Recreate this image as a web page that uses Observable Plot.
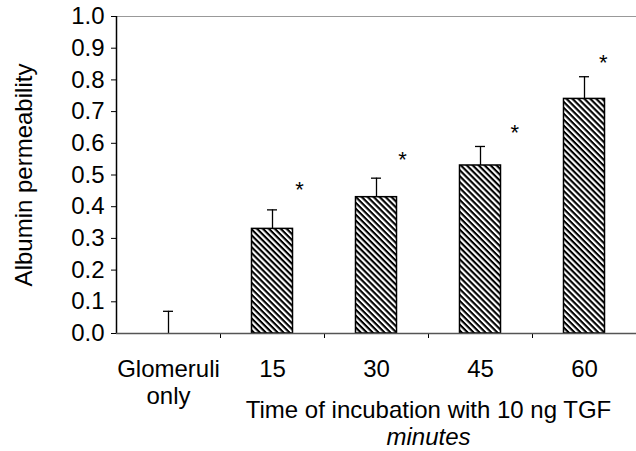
<!DOCTYPE html>
<html>
<head>
<meta charset="utf-8">
<script src="https://cdn.jsdelivr.net/npm/d3@7"></script>
<script src="https://cdn.jsdelivr.net/npm/@observablehq/plot@0.6"></script>
<style>
  html, body { margin: 0; padding: 0; background: #fff; }
  svg { display: block; }
</style>
</head>
<body>
<div id="chart"></div>
<script>
// ---- data ----
const categories = ["Glomeruli\nonly", "15", "30", "45", "60"];
const values = [0, 0.33, 0.43, 0.53, 0.74];
const errTop = [0.07, 0.39, 0.49, 0.59, 0.81];
const starCats = [1, 2, 3, 4];          // index of bars with asterisks
const starX = [1.76, 2.75, 3.83, 4.68]; // asterisk horizontal position (x units)
const starY = [0.46, 0.555, 0.64, 0.86];
const yTicks = [0, 0.1, 0.2, 0.3, 0.4, 0.5, 0.6, 0.7, 0.8, 0.9, 1.0];
const xTitle = "Time of incubation with 10 ng TGF";
const xSubTitle = "minutes";
const yTitle = "Albumin permeability";

const rows = categories.map((c, i) => ({i, cat: c, v: values[i], e: errTop[i]}));
const barRows = rows.filter(d => d.v > 0);
const stars = starCats.map((c, k) => ({x: starX[k], y: starY[k]}));

const W = 636, H = 451, mL = 116, mR = 0, mT = 16, mB = 118;
const bw = (W - mL - mR) / categories.length;
const barW = 41;
const inset = (bw - barW) / 2;
const capHalf = 5 / bw;

const font = "Arial, 'Liberation Sans', Helvetica, sans-serif";

const plot = Plot.plot({
  width: W, height: H,
  marginLeft: mL, marginRight: mR, marginTop: mT, marginBottom: mB,
  style: {fontFamily: font, fontSize: "24px", color: "#000", background: "#fff", overflow: "visible"},
  x: {type: "linear", domain: [0, categories.length]},
  y: {domain: [0, 1]},
  marks: [
    Plot.ruleY([1], {stroke: "#999", strokeWidth: 1}),
    // y axis
    Plot.axisY({ticks: yTicks, tickFormat: d3.format(".1f"), tickSize: 5, tickPadding: 7, label: null, fontSize: 24}),
    Plot.ruleX([0], {stroke: "#000", strokeWidth: 1.5}),
    // x axis: boundary ticks
    Plot.axisX({ticks: d3.range(1, categories.length), tickFormat: () => "", tickSize: 5, label: null}),
    // x axis: category labels at band centers
    Plot.axisX({ticks: d3.range(categories.length).map(i => i + 0.5), tickFormat: v => categories[Math.floor(v)], tickSize: 0, tickPadding: 25, label: null, fontSize: 24, lineHeight: 1.1}),
    // bars
    Plot.rectY(barRows, {x1: "i", x2: d => d.i + 1, y: "v", insetLeft: inset, insetRight: inset, fill: "#000", stroke: "#000", strokeWidth: 1.5}),
    // error bars
    Plot.ruleX(rows, {x: d => d.i + 0.5, y1: "v", y2: "e", stroke: "#000", strokeWidth: 1.3}),
    Plot.ruleY(rows, {y: "e", x1: d => d.i + 0.5 - capHalf, x2: d => d.i + 0.5 + capHalf, stroke: "#000", strokeWidth: 1.3}),
    // baseline
    Plot.ruleY([0], {stroke: "#555", strokeWidth: 1.5}),
    // asterisks
    Plot.text(stars, {x: "x", y: "y", text: () => "*", fontSize: 22, lineAnchor: "middle", dy: 2}),
    // axis titles
    Plot.text([yTitle], {frameAnchor: "left", dx: -92, rotate: -90, text: d => d, fontSize: 24, textAnchor: "middle"}),
    Plot.text([xTitle], {frameAnchor: "bottom", dx: 52, dy: 77, text: d => d, fontSize: 24, lineAnchor: "middle"}),
    Plot.text([xSubTitle], {frameAnchor: "bottom", dx: 52, dy: 104, text: d => d, fontSize: 24, fontStyle: "italic", lineAnchor: "middle"})
  ]
});

// hatch pattern
const svg = d3.select(plot);
const defs = svg.insert("defs", ":first-child");
const pat = defs.append("pattern")
  .attr("id", "hatch").attr("patternUnits", "userSpaceOnUse")
  .attr("width", 4.2).attr("height", 4.2)
  .attr("patternTransform", "rotate(45)");
pat.append("rect").attr("width", 4.2).attr("height", 4.2).attr("fill", "#fff");
pat.append("rect").attr("width", 4.2).attr("height", 2.1).attr("fill", "#000");
svg.selectAll("g[aria-label='rect'] rect").attr("fill", "url(#hatch)");

document.getElementById("chart").appendChild(plot);
</script>
</body>
</html>
